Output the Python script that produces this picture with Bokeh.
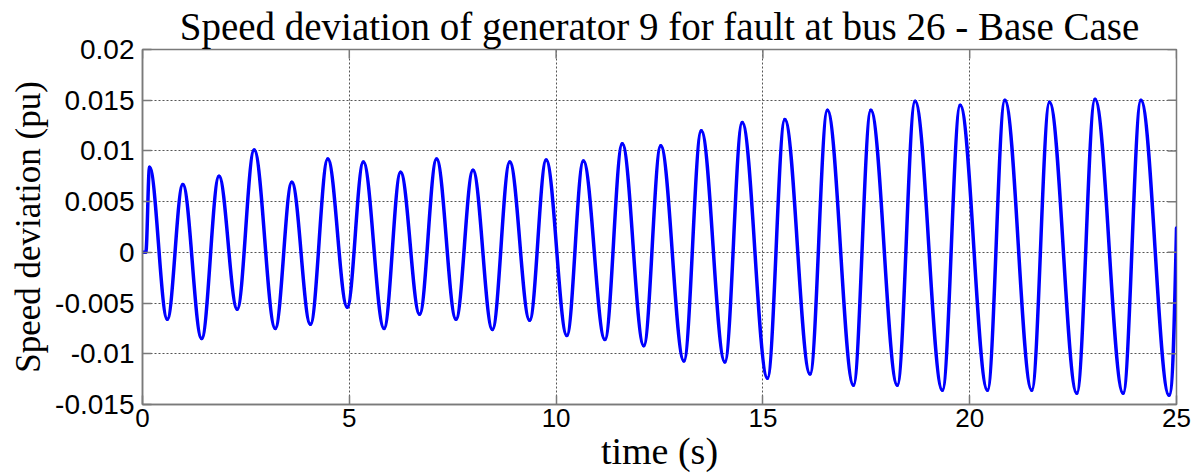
from bokeh.plotting import figure
from bokeh.models import FixedTicker, Range1d
from bokeh.embed import file_html
from bokeh.resources import INLINE

# Extrema (time in s, speed deviation in pu),
# plus the flat start and the final sample at t = 25 s.
t_ext = [0.0, 0.08, 0.17, 0.60, 0.975, 1.43, 1.85, 2.29, 2.70, 3.21, 3.61, 4.06,
         4.48, 4.95, 5.34, 5.84, 6.24, 6.70, 7.11, 7.58, 7.99, 8.46, 8.88, 9.36,
         9.76, 10.26, 10.66, 11.18, 11.60, 12.12, 12.53, 13.09, 13.51, 14.08,
         14.50, 15.11, 15.53, 16.14, 16.56, 17.19, 17.61, 18.25, 18.68, 19.34,
         19.77, 20.43, 20.85, 21.50, 21.93, 22.59, 23.03, 23.71, 24.14, 24.82, 25.0]
v_ext = [0.0, 0.0, 0.0084, -0.0066, 0.0067, -0.0085, 0.0075, -0.0056, 0.0101, -0.0075,
         0.0069, -0.0071, 0.0092, -0.0054, 0.0089, -0.0075, 0.0079, -0.0061, 0.0092,
         -0.0066, 0.0081, -0.0076, 0.0089, -0.0067, 0.0091, -0.0082, 0.0090, -0.0086,
         0.0107, -0.0092, 0.0105, -0.0107, 0.0120, -0.0108, 0.0128, -0.0124, 0.0131,
         -0.0120, 0.0140, -0.0131, 0.0140, -0.0131, 0.0149, -0.0136, 0.0145, -0.0136,
         0.0150, -0.0136, 0.0148, -0.0139, 0.0151, -0.0139, 0.0150, -0.0141, 0.0024]

x_ticks = [0, 5, 10, 15, 20, 25]
y_ticks = [-0.015, -0.01, -0.005, 0, 0.005, 0.01, 0.015, 0.02]
y_tick_labels = ["-0.015", "-0.01", "-0.005", "0", "0.005", "0.01", "0.015", "0.02"]

TITLE = "Speed deviation of generator 9 for fault at bus 26 - Base Case"
GRAY = "#7a7a7a"
X_MIN, X_MAX = 0, 25
Y_MIN, Y_MAX = -0.015, 0.02

p = figure(width=1200, height=474, output_backend="svg", toolbar_location=None,
           x_range=Range1d(X_MIN, X_MAX), y_range=Range1d(Y_MIN, Y_MAX),
           min_border_left=142, min_border_right=24, min_border_top=49,
           min_border_bottom=61, background_fill_color="white",
           border_fill_color="white", title=TITLE)

p.title.text_font = "Liberation Serif"
p.title.text_font_size = "39px"
p.title.text_font_style = "normal"
p.title.align = "center"
p.title.standoff = 3
p.title.text_color = "black"

# Half-cycle segments drawn as cubic Bezier curves between consecutive extrema
k = 0.363
x0, y0, x1, y1, cx0, cy0, cx1, cy1 = [], [], [], [], [], [], [], []
n = len(t_ext)
for i in range(n - 1):
    a, b = t_ext[i], t_ext[i + 1]
    ya, yb = v_ext[i], v_ext[i + 1]
    dx = b - a
    x0.append(a); y0.append(ya); x1.append(b); y1.append(yb)
    if i == n - 2:  # final, partial rise cut at t = 25 s
        cx0.append(a + 0.5 * dx); cy0.append(ya)
        cx1.append(b - 0.3 * dx); cy1.append(yb - 0.6 * (yb - ya))
    else:
        cx0.append(a + k * dx); cy0.append(ya)
        cx1.append(b - k * dx); cy1.append(yb)

p.bezier(x0=x0, y0=y0, x1=x1, y1=y1, cx0=cx0, cy0=cy0, cx1=cx1, cy1=cy1,
         line_color="#0000FF", line_width=3.5, line_cap="round")

# Axes styling
for ax in (p.xaxis[0], p.yaxis[0]):
    ax.axis_line_color = GRAY
    ax.axis_line_width = 1.5
    ax.major_tick_line_color = GRAY
    ax.major_tick_line_width = 1.5
    ax.major_tick_in = 9
    ax.major_tick_out = 0
    ax.minor_tick_line_color = None
    ax.major_label_text_font = "Liberation Sans"
    ax.major_label_text_color = "black"
    ax.axis_label_text_font = "Liberation Serif"
    ax.axis_label_text_font_style = "normal"
    ax.axis_label_text_color = "black"

p.xaxis[0].major_label_text_font_size = "26px"
p.yaxis[0].major_label_text_font_size = "28px"
p.xaxis[0].ticker = FixedTicker(ticks=x_ticks)
p.yaxis[0].ticker = FixedTicker(ticks=y_ticks)
p.yaxis[0].major_label_overrides = {v: s for v, s in zip(y_ticks, y_tick_labels)}
p.xaxis[0].major_label_standoff = 4
p.yaxis[0].major_label_standoff = 8
p.xaxis[0].axis_label = "time (s)"
p.yaxis[0].axis_label = "Speed deviation (pu)"
p.xaxis[0].axis_label_text_font_size = "38px"
p.yaxis[0].axis_label_text_font_size = "35px"
p.xaxis[0].axis_label_standoff = 0
p.yaxis[0].axis_label_standoff = 4

# Mirrored inside ticks on the top and right sides (box on); the outer half
# of each dash is clipped by the frame, leaving an inward tick.
p.scatter(x=x_ticks, y=[Y_MAX] * len(x_ticks), marker="dash", angle=1.5708,
          size=18, line_color=GRAY, line_width=1.5)
p.scatter(x=[X_MAX] * len(y_ticks), y=y_ticks, marker="dash",
          size=18, line_color=GRAY, line_width=1.5)

p.outline_line_color = GRAY
p.outline_line_width = 1.5

p.xgrid[0].ticker = FixedTicker(ticks=x_ticks)
p.ygrid[0].ticker = FixedTicker(ticks=y_ticks)
for g in (p.xgrid[0], p.ygrid[0]):
    g.grid_line_color = "#555555"
    g.grid_line_width = 1
    g.grid_line_dash = "2 2"

open("out.html", "w").write(file_html(p, INLINE))
